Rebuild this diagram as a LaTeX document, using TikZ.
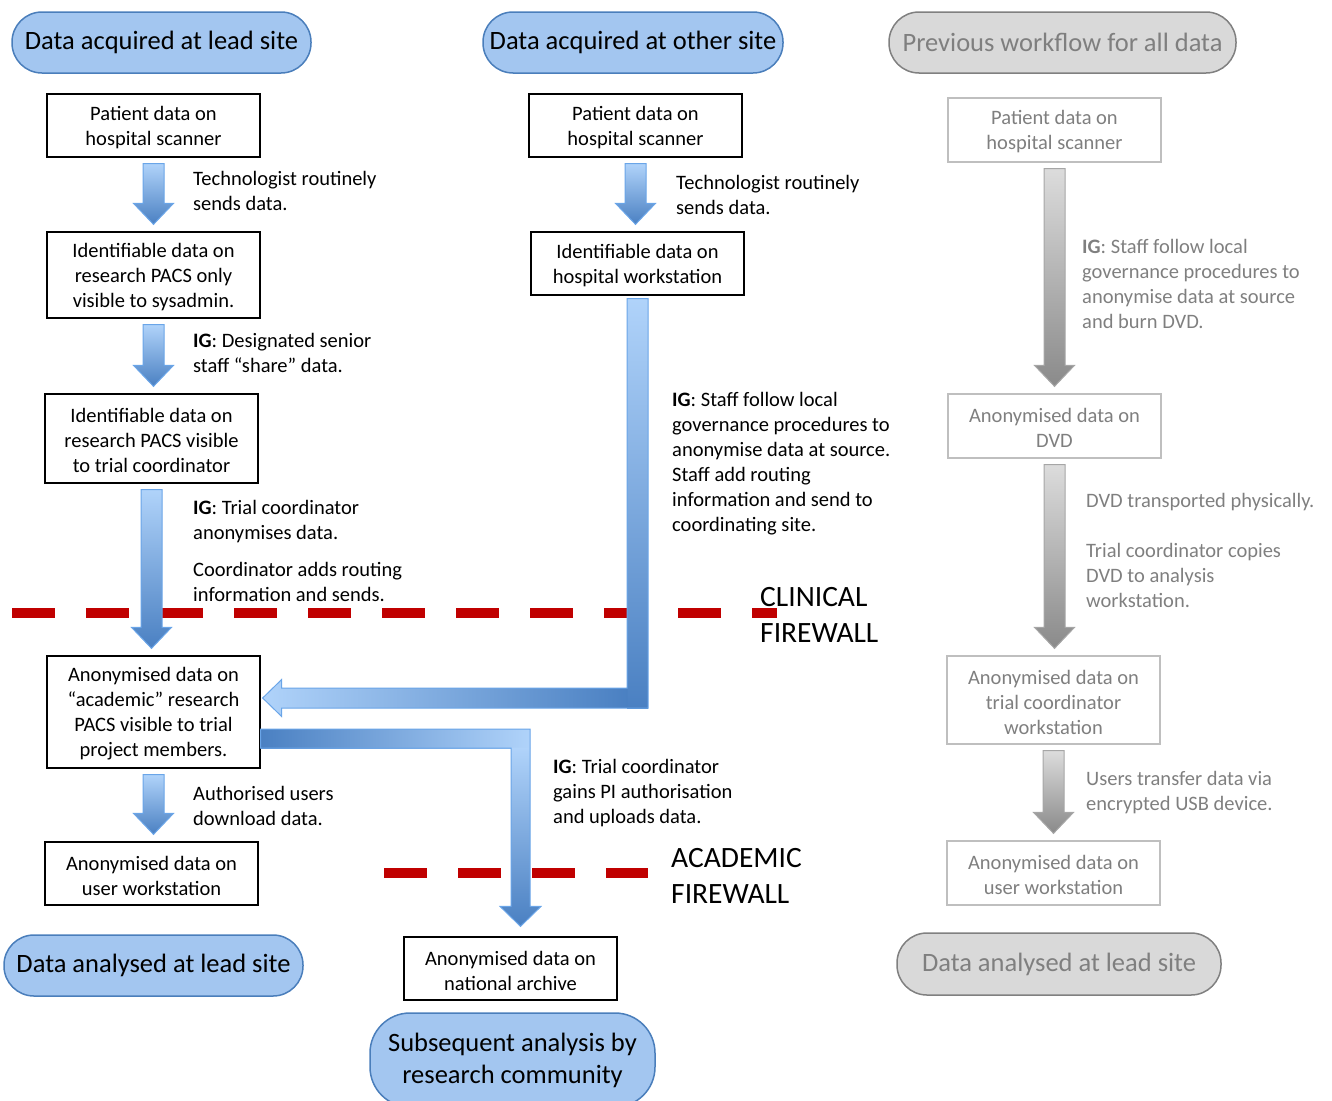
\documentclass[tikz,border=0pt]{standalone}
\usepackage{fontspec}
\setmainfont{Carlito}
\usetikzlibrary{calc}
\definecolor{pillblue}{HTML}{A3C6F0}
\definecolor{pillblueborder}{HTML}{4A7EBB}
\definecolor{arrlight}{HTML}{B0D3FA}
\definecolor{arrdark}{HTML}{4A80C2}
\definecolor{arrborder}{HTML}{6AA5E8}
\definecolor{greyfill}{HTML}{D9D9D9}
\definecolor{greyborder}{HTML}{808080}
\definecolor{greytext}{HTML}{7F7F7F}
\definecolor{greybox}{HTML}{BFBFBF}
\definecolor{garrlight}{HTML}{DCDCDC}
\definecolor{garrdark}{HTML}{8A8A8A}
\definecolor{garrborder}{HTML}{A6A6A6}
\definecolor{firered}{HTML}{C00000}
\newcommand\boxfont{\fontsize{20.5}{25}\selectfont}
\newcommand\pillfont{\fontsize{26.5}{32}\selectfont}
\newcommand\firefont{\fontsize{29.5}{36}\selectfont}
\newcommand\blockarrowdown[3]{%
  \path[#1] let \p1=(#2.south), \p2=(#3.north) in
  (\x1-10.5pt,\y1-6pt) -- (\x1+10.5pt,\y1-6pt) -- (\x1+10.5pt,\y2+28pt) --
  (\x1+20pt,\y2+28pt) -- (\x1,\y2+7pt) -- (\x1-20pt,\y2+28pt) --
  (\x1-10.5pt,\y2+28pt) -- cycle;}
\begin{document}
\begin{tikzpicture}[x=1pt,y=-1pt,
  pill/.style={draw=pillblueborder, fill=pillblue, line width=1.5pt, rounded corners=30pt,
    font=\pillfont, inner sep=0pt, align=center, minimum height=61pt},
  gpill/.style={pill, draw=greyborder, fill=greyfill, text=greytext},
  dbox/.style={draw=black, line width=1.3pt, fill=white, inner sep=0pt, minimum width=213pt},
  gbox/.style={dbox, draw=greybox},
  btxt/.style={align=center, font=\boxfont, inner sep=0pt, yshift=-2pt},
  gbtxt/.style={btxt, text=greytext},
  lbl/.style={anchor=north west, align=left, inner sep=0pt, font=\boxfont},
  glbl/.style={lbl, text=greytext},
  fire/.style={anchor=north west, align=left, inner sep=0pt, font=\firefont},
  firewall/.style={draw=firered, line width=10pt, dash pattern=on 43pt off 31pt},
  barrow/.style={top color=arrlight, bottom color=arrdark, draw=arrborder, line width=1pt},
  garrow/.style={top color=garrlight, bottom color=garrdark, draw=garrborder, line width=1pt}
]
\useasboundingbox (0,0) rectangle (1332,1100);

% firewalls (beneath arrows)
\draw[firewall] (12,613) -- (777,613);
\draw[firewall] (384,873) -- (648,873);

% ---------- lead site column ----------
\node[pill, minimum width=299pt] (tL) at (161.5,42.5) {Data acquired at lead site};
\node[dbox, minimum height=63pt, label={[btxt]center:{Patient data on\\hospital scanner}}] (a1) at (153.5,125.5) {};
\node[dbox, minimum height=86pt, label={[btxt]center:{Identifiable data on\\research PACS only\\visible to sysadmin.}}] (a2) at (153.5,275) {};
\node[dbox, minimum height=89pt, label={[btxt]center:{Identifiable data on\\research PACS visible\\to trial coordinator}}] (a3) at (151.5,438.5) {};
\node[dbox, minimum height=112pt, label={[btxt]center:{Anonymised data on\\“academic” research\\PACS visible to trial\\project members.}}] (a4) at (153.5,712) {};
\node[dbox, minimum height=63pt, label={[btxt]center:{Anonymised data on\\user workstation}}] (a5) at (151.5,873.5) {};
\node[pill, minimum width=299pt] (bL) at (153.5,965.5) {Data analysed at lead site};

% ---------- other site column ----------
\node[pill, minimum width=300pt] (tM) at (633,42.5) {Data acquired at other site};
\node[dbox, minimum height=63pt, label={[btxt]center:{Patient data on\\hospital scanner}}] (b1) at (635.5,125.5) {};
\node[dbox, minimum height=63pt, label={[btxt]center:{Identifiable data on\\hospital workstation}}] (b2) at (637.5,263.5) {};
\node[dbox, minimum height=63pt, label={[btxt]center:{Anonymised data on\\national archive}}] (b3) at (510.5,968.5) {};
\node[pill, minimum width=285pt, minimum height=94pt, rounded corners=40pt] (bM) at (512.5,1060) {Subsequent analysis by\\research community};

% ---------- previous workflow column ----------
\node[gpill, minimum width=347pt] (tR) at (1062.5,42.5) {Previous workflow for all data};
\node[gbox, minimum height=64pt, label={[gbtxt]center:{Patient data on\\hospital scanner}}] (c1) at (1054.5,130) {};
\node[gbox, minimum height=64pt, label={[gbtxt]center:{Anonymised data on\\DVD}}] (c2) at (1054.5,426) {};
\node[gbox, minimum height=88pt, label={[gbtxt]center:{Anonymised data on\\trial coordinator\\workstation}}] (c3) at (1053.5,700) {};
\node[gbox, minimum height=64pt, label={[gbtxt]center:{Anonymised data on\\user workstation}}] (c4) at (1053.5,873) {};
\node[gpill, minimum width=324pt, minimum height=62pt] (bR) at (1059,964) {Data analysed at lead site};

% ---------- vertical block arrows ----------
\blockarrowdown{barrow}{a1}{a2}
\blockarrowdown{barrow}{a2}{a3}
\blockarrowdown{barrow}{a3}{a4}
\blockarrowdown{barrow}{a4}{a5}
\blockarrowdown{barrow}{b1}{b2}
\blockarrowdown{garrow}{c1}{c2}
\blockarrowdown{garrow}{c2}{c3}
\blockarrowdown{garrow}{c3}{c4}

% ---------- L arrow: other-site workstation -> academic PACS ----------
\path[top color=arrlight, bottom color=arrdark] let \p1=(b2.south), \p2=(a4.east) in
  (\x1-10.5pt,\y1-3pt) rectangle (\x1+10.5pt,\y2+4pt);
\path[left color=arrlight, right color=arrdark] let \p1=(b2.south), \p2=(a4.east) in
  (\x2+2pt,\y2+14pt) -- (\x2+21pt,\y2+32.5pt) -- (\x2+21pt,\y2+24pt) --
  (\x1-10pt,\y2+24pt) -- (\x1-10pt,\y2+4pt) -- (\x2+21pt,\y2+4pt) --
  (\x2+21pt,\y2-4.5pt) -- cycle;
\draw[arrborder, line width=1pt] let \p1=(b2.south), \p2=(a4.east) in
  (\x1-10.5pt,\y1-3pt) -- (\x1+10.5pt,\y1-3pt) -- (\x1+10.5pt,\y2+4pt) --
  (\x2+21pt,\y2+4pt) -- (\x2+21pt,\y2-4.5pt) -- (\x2+2pt,\y2+14pt) --
  (\x2+21pt,\y2+32.5pt) -- (\x2+21pt,\y2+24pt) -- (\x1-10.5pt,\y2+24pt) -- cycle;

% ---------- L arrow: academic PACS -> national archive ----------
\path[left color=arrdark, right color=arrlight] let \p1=(a4.east), \p2=(b3.north) in
  (\x1,\y1-17pt) rectangle (\x2+19.5pt,\y1-36pt);
\path[top color=arrlight, bottom color=arrdark] let \p1=(a4.east), \p2=(b3.north) in
  (\x2+0.5pt,\y1-35.5pt) -- (\x2+19.5pt,\y1-35.5pt) -- (\x2+19.5pt,\y2+30pt) --
  (\x2+30.5pt,\y2+30pt) -- (\x2+10pt,\y2+10pt) -- (\x2-10.5pt,\y2+30pt) --
  (\x2+0.5pt,\y2+30pt) -- cycle;
\draw[arrborder, line width=1pt] let \p1=(a4.east), \p2=(b3.north) in
  (\x1,\y1-17pt) -- (\x2+19.5pt,\y1-17pt) -- (\x2+19.5pt,\y2+30pt) --
  (\x2+30.5pt,\y2+30pt) -- (\x2+10pt,\y2+10pt) -- (\x2-10.5pt,\y2+30pt) --
  (\x2+0.5pt,\y2+30pt) -- (\x2+0.5pt,\y1-36pt) -- (\x1,\y1-36pt) -- cycle;

% ---------- labels ----------
\node[lbl] (l1) at (193,171) {Technologist routinely\\sends data.};
\node[lbl] (l2) at (193,333) {\textbf{IG}: Designated senior\\staff “share” data.};
\node[lbl] (l3) at (193,500) {\textbf{IG}: Trial coordinator\\anonymises data.};
\node[lbl] (l4) at (193,562) {Coordinator adds routing\\information and sends.};
\node[lbl] (l5) at (193,786) {Authorised users\\download data.};
\node[lbl] (m1) at (676,175) {Technologist routinely\\sends data.};
\node[lbl] (m2) at (672,392) {\textbf{IG}: Staff follow local\\governance procedures to\\anonymise data at source.\\Staff add routing\\information and send to\\coordinating site.};
\node[lbl] (m3) at (553,759) {\textbf{IG}: Trial coordinator\\gains PI authorisation\\and uploads data.};
\node[glbl] (r1) at (1082,239) {\textbf{IG}: Staff follow local\\governance procedures to\\anonymise data at source\\and burn DVD.};
\node[glbl] (r2) at (1086,493) {DVD transported physically.};
\node[glbl] (r3) at (1086,543) {Trial coordinator copies\\DVD to analysis\\workstation.};
\node[glbl] (r4) at (1086,771) {Users transfer data via\\encrypted USB device.};

\node[fire] (fw1) at (760,587) {CLINICAL\\FIREWALL};
\node[fire] (fw2) at (671,848) {ACADEMIC\\FIREWALL};
\end{tikzpicture}
\end{document}
